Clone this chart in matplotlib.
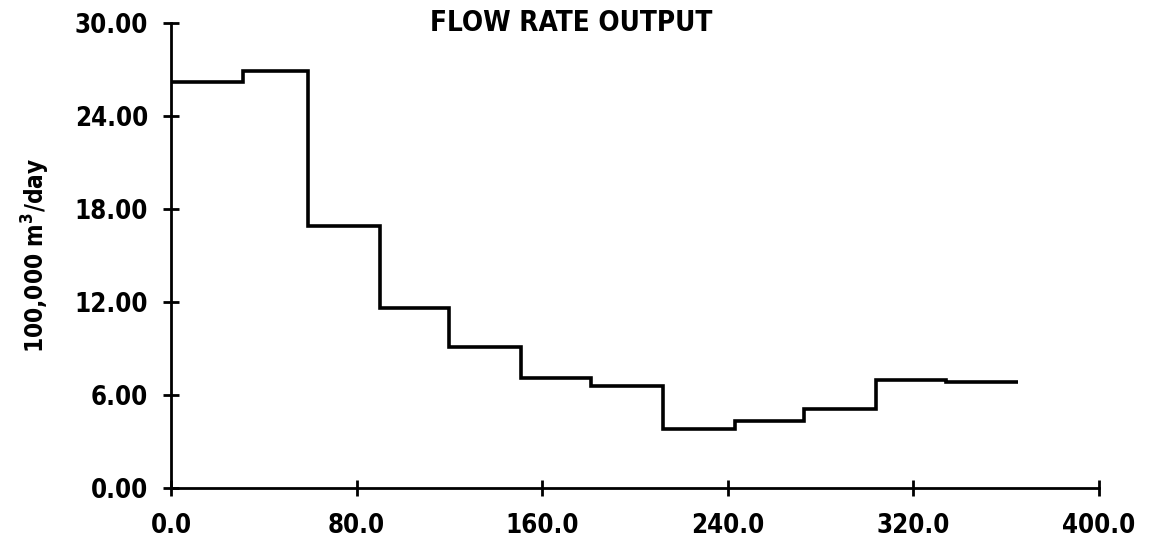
import numpy as np
import matplotlib.pyplot as plt

# monthly flow rate, 100,000 m3/day, stepped at month boundaries (days)
day_edges = [0, 31, 59, 90, 120, 151, 181, 212, 243, 273, 304, 334, 365]
flow = [26.2, 26.9, 16.9, 11.6, 9.1, 7.1, 6.6, 3.8, 4.3, 5.1, 7.0, 6.85]

xticks = [0, 80, 160, 240, 320, 400]
yticks = [0, 6, 12, 18, 24, 30]

plt.rcParams['font.family'] = ['DejaVu Sans']
plt.rcParams['font.stretch'] = 'condensed'
plt.rcParams['font.weight'] = 'bold'

fig = plt.figure(figsize=(11.53, 5.44), dpi=100)
ax = fig.add_axes([0.1483, 0.1029, 0.8049, 0.8548])

ax.stairs(flow, day_edges, color='black', linewidth=2.6, baseline=None)

ax.set_xlim(0, 400)
ax.set_ylim(0, 30)
ax.set_xticks(xticks)
ax.set_xticklabels([f"{v:.1f}" for v in xticks])
ax.set_yticks(yticks)
ax.set_yticklabels([f"{v:.2f}" for v in yticks])

for s in ['top', 'right']:
    ax.spines[s].set_visible(False)
for s in ['left', 'bottom']:
    ax.spines[s].set_linewidth(2)
ax.tick_params(direction='inout', length=11, width=2, labelsize=18.5)
ax.tick_params(axis='x', pad=12.5)
ax.tick_params(axis='y', pad=11)

ax.set_ylabel("100,000 m$^3$/day", fontsize=17.5, fontweight='bold', labelpad=16)
fig.text(0.495, 0.958, "FLOW RATE OUTPUT", fontsize=20, fontweight='bold',
         ha='center', va='center')

fig.savefig("out.png", dpi=100)
